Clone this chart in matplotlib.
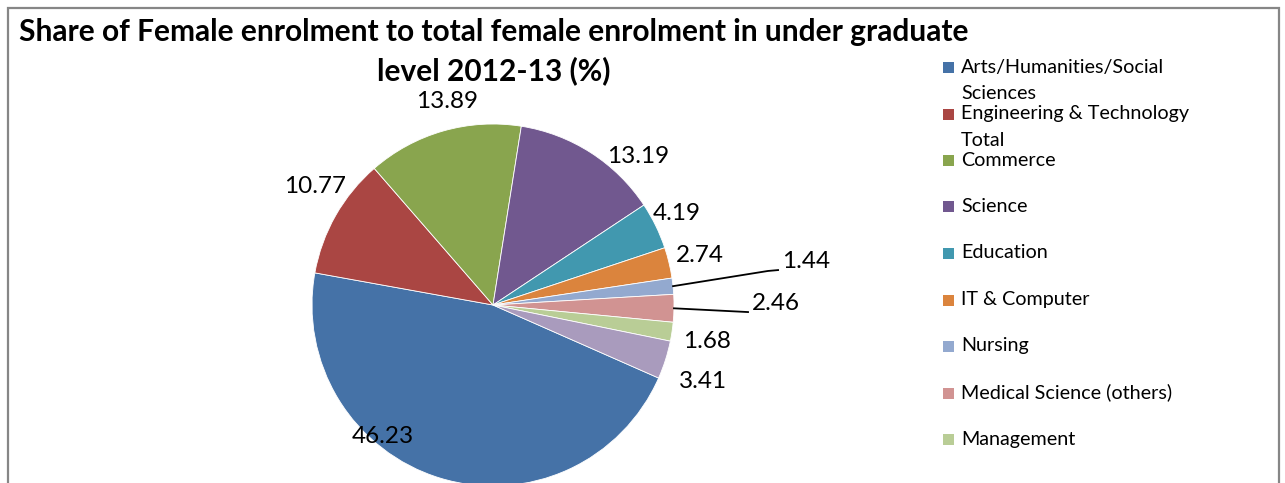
import matplotlib
matplotlib.use('Agg')
import matplotlib.pyplot as plt
from matplotlib.patches import Rectangle
import numpy as np

plt.rcParams['font.family'] = ['Lato', 'DejaVu Sans']

# share of female enrolment by discipline (%)
disciplines = ['Arts/Humanities/Social\nSciences', 'Engineering & Technology\nTotal', 'Commerce',
               'Science', 'Education', 'IT & Computer', 'Nursing', 'Medical Science (others)',
               'Management', 'Others']
shares = [46.23, 10.77, 13.89, 13.19, 4.19, 2.74, 1.44, 2.46, 1.68, 3.41]
colors = ['#4572A7', '#AA4643', '#89A54E', '#71588F', '#4198AF', '#DB843D',
          '#93A9CF', '#D19392', '#B9CD96', '#A99BBD']

# where each value label sits, in pie radius units
label_pos = [(-0.608, -0.729), (-0.983, 0.657), (-0.254, 1.122), (0.801, 0.823),
             (1.017, 0.508), (1.144, 0.276), (1.575, 0.238), (1.420, 0.011),
             (1.182, -0.204), (1.160, -0.420)]
leader = {6: [(1.519, 0.188), (1.575, 0.193)], 7: [(1.409, -0.039)]}

W, H = 1285, 483
fig = plt.figure(figsize=(W / 100, H / 100), dpi=100)

def fx(px):
    return px / W

def fy(py):
    return 1 - py / H

# outer chart border
fig.patches.append(Rectangle((fx(8), fy(520)), fx(1279) - fx(8), fy(8) - fy(520),
                             transform=fig.transFigure, fill=False,
                             edgecolor='#868686', linewidth=1.6))

fig.text(fx(494), fy(32), 'Share of Female enrolment to total female enrolment in under graduate',
         ha='center', va='center', fontsize=21.5, fontweight='bold')
fig.text(fx(494), fy(71), 'level 2012-13 (%)', ha='center', va='center',
         fontsize=21.5, fontweight='bold')

cx, cy, r = 493, 305, 181
ax = fig.add_axes([fx(cx - r), fy(cy + r), 2 * r / W, 2 * r / H])
wedges, _ = ax.pie(shares, colors=colors, startangle=-23.8, counterclock=False, radius=1,
                   wedgeprops=dict(edgecolor='white', linewidth=0.6))
ax.set_xlim(-1, 1)
ax.set_ylim(-1, 1)
ax.axis('off')

for i, (w, val) in enumerate(zip(wedges, shares)):
    x, y = label_pos[i]
    if i in leader:
        mid = np.deg2rad((w.theta1 + w.theta2) / 2)
        pts = [(np.cos(mid), np.sin(mid))] + leader[i]
        ax.plot([p[0] for p in pts], [p[1] for p in pts], color='black', lw=1.3,
                clip_on=False)
        ax.text(pts[-1][0] + 0.02, y, f'{val:.2f}', ha='left', va='center', fontsize=17.5)
    else:
        ax.text(x, y, f'{val:.2f}', ha='center', va='center', fontsize=17.5)

# legend (only the first nine entries fit in the box)
for i in range(9):
    ty = 67 + 46.5 * i
    fig.patches.append(Rectangle((fx(943), fy(ty + 6)), 11 / W, 11 / H,
                                 transform=fig.transFigure, facecolor=colors[i],
                                 edgecolor='none'))
    lines = disciplines[i].split('\n')
    for k, line in enumerate(lines):
        fig.text(fx(961), fy(ty + 26.5 * k), line, ha='left', va='center', fontsize=14.2)

fig.savefig('out.png', dpi=100)
